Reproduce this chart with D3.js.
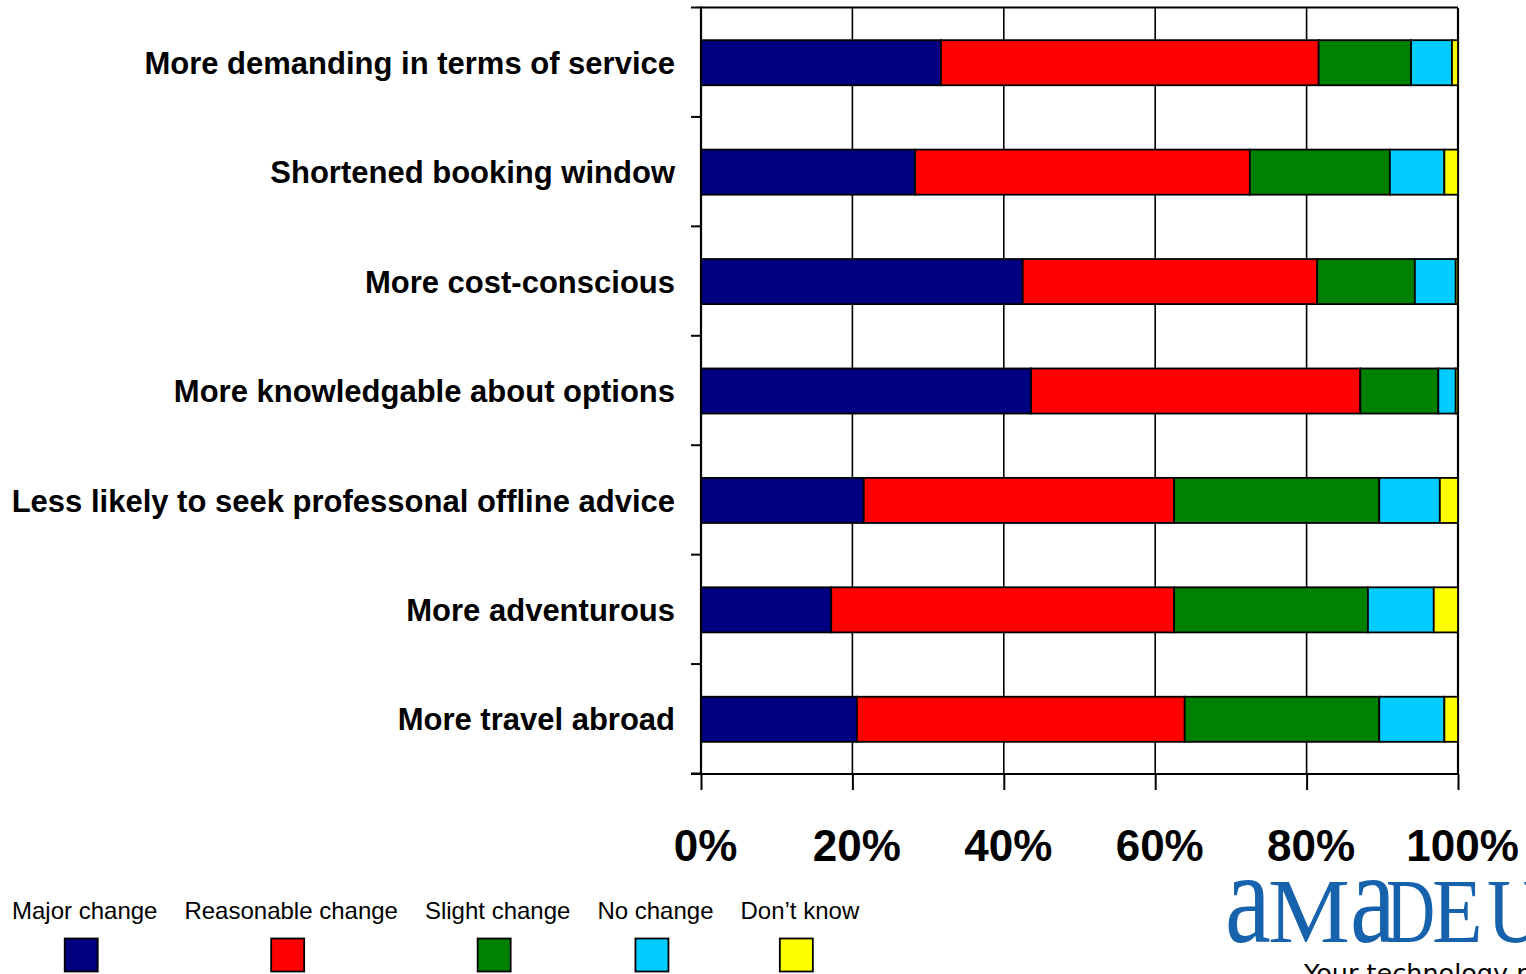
<!DOCTYPE html>
<html>
<head>
<meta charset="utf-8">
<script src="https://cdn.jsdelivr.net/npm/d3@7"></script>
<style>
  html, body { margin: 0; padding: 0; background: #fff; }
  svg { display: block; }
</style>
</head>
<body>
<svg id="chart" width="1526" height="974"></svg>
<script>
// Survey statements, top to bottom
const categories = [
  "More demanding in terms of service",
  "Shortened booking window",
  "More cost-conscious",
  "More knowledgable about options",
  "Less likely to seek professonal offline advice",
  "More adventurous",
  "More travel abroad"
];

// Response shares (%) per statement, in the order of `categories`
const seriesNames = ["Major change", "Reasonable change", "Slight change", "No change", "Don\u2019t know"];
const majorChange      = [31.7, 28.3, 42.5, 43.6, 21.5, 17.2, 20.6];
const reasonableChange = [49.9, 44.2, 38.9, 43.5, 41.0, 45.3, 43.3];
const slightChange     = [12.2, 18.5, 12.9, 10.3, 27.1, 25.6, 25.7];
const noChange         = [ 5.4,  7.2,  5.4,  2.3,  8.0,  8.7,  8.6];
const dontKnow         = [ 0.8,  1.8,  0.3,  0.3,  2.4,  3.2,  1.8];

const seriesColors = ["#000080", "#ff0000", "#008000", "#00ccff", "#ffff00"];
const xTicks = [0, 20, 40, 60, 80, 100];

const svg = d3.select("#chart");
const plot = { left: 701, right: 1458, top: 8, bottom: 774 };

const rows = categories.map((c, i) => ({
  category: c,
  [seriesNames[0]]: majorChange[i],
  [seriesNames[1]]: reasonableChange[i],
  [seriesNames[2]]: slightChange[i],
  [seriesNames[3]]: noChange[i],
  [seriesNames[4]]: dontKnow[i]
}));
const stacked = d3.stack().keys(seriesNames)(rows);

const x = d3.scaleLinear().domain([0, 100]).range([plot.left, plot.right]);
const y = d3.scaleBand().domain(categories).range([plot.top, plot.bottom]).padding(0);
const barH = y.bandwidth() * 0.412;
const color = d3.scaleOrdinal().domain(seriesNames).range(seriesColors);

// vertical gridlines
svg.append("g")
  .selectAll("line")
  .data(xTicks.slice(1))
  .join("line")
  .attr("x1", d => x(d)).attr("x2", d => x(d))
  .attr("y1", plot.top).attr("y2", plot.bottom)
  .attr("stroke", "#000")
  .attr("stroke-width", d => d === 100 ? 2.2 : 1.6);

// top frame line
svg.append("line")
  .attr("x1", plot.left).attr("x2", plot.right)
  .attr("y1", plot.top - 0.5).attr("y2", plot.top - 0.5)
  .attr("stroke", "#000").attr("stroke-width", 2);

// stacked bars
svg.append("g")
  .selectAll("g")
  .data(stacked)
  .join("g")
  .attr("fill", d => color(d.key))
  .selectAll("rect")
  .data(d => d)
  .join("rect")
  .attr("x", d => x(d[0]))
  .attr("width", d => x(d[1]) - x(d[0]))
  .attr("y", d => y(d.data.category) + (y.bandwidth() - barH) / 2)
  .attr("height", barH)
  .attr("stroke", "#000")
  .attr("stroke-width", 1.8);

// left axis: band boundary ticks plus category labels
const yAxisG = svg.append("g");
yAxisG.append("line")
  .attr("x1", plot.left).attr("x2", plot.left)
  .attr("y1", plot.top - 1.5).attr("y2", plot.bottom)
  .attr("stroke", "#000").attr("stroke-width", 2.2);
yAxisG.selectAll("line.tick")
  .data(d3.range(categories.length + 1))
  .join("line")
  .attr("class", "tick")
  .attr("x1", plot.left - 10).attr("x2", plot.left)
  .attr("y1", i => plot.top + i * y.step() - 0.5)
  .attr("y2", i => plot.top + i * y.step() - 0.5)
  .attr("stroke", "#000").attr("stroke-width", 2);

yAxisG.selectAll("text")
  .data(categories)
  .join("text")
  .attr("x", 675)
  .attr("y", d => y(d) + y.bandwidth() / 2)
  .attr("dy", "0.36em")
  .attr("text-anchor", "end")
  .attr("font-family", "Liberation Sans, Arial, sans-serif")
  .attr("font-weight", "bold")
  .attr("font-size", 31)
  .attr("fill", "#000")
  .text(d => d);

// bottom axis
const xAxis = d3.axisBottom(x)
  .tickValues(xTicks)
  .tickSize(16)
  .tickPadding(40)
  .tickFormat(d => d + "%");
const xAxisG = svg.append("g")
  .attr("transform", `translate(0,${plot.bottom})`)
  .call(xAxis);
xAxisG.select(".domain").remove();
xAxisG.append("line")
  .attr("x1", plot.left - 10).attr("x2", plot.right)
  .attr("y1", 0).attr("y2", 0)
  .attr("stroke", "#000").attr("stroke-width", 2.2);
xAxisG.selectAll(".tick line").attr("stroke", "#000").attr("stroke-width", 2);
xAxisG.selectAll(".tick text")
  .attr("font-family", "Liberation Sans, Arial, sans-serif")
  .attr("font-weight", "bold")
  .attr("font-size", 44)
  .attr("fill", "#000")
  .attr("dx", 4);

// legend: labels in a row, swatch under each label
const legend = svg.append("g").attr("font-family", "Liberation Sans, Arial, sans-serif");
let lx = 12;
seriesNames.forEach((name, i) => {
  const t = legend.append("text")
    .attr("x", lx).attr("y", 919)
    .attr("font-size", 24)
    .attr("fill", "#000")
    .text(name);
  const w = t.node().getComputedTextLength();
  legend.append("rect")
    .attr("x", lx + w / 2 - 20)
    .attr("y", 938.5)
    .attr("width", 33).attr("height", 33)
    .attr("fill", seriesColors[i])
    .attr("stroke", "#000").attr("stroke-width", 1.8);
  lx += w + 27;
});

// company logo, lower right: each letter placed and narrowed on its own
const logoLetters = [
  { ch: "a", size: 132, left: 1225, sx: 0.78 },
  { ch: "M", size: 92,  left: 1268, sx: 1.0 },
  { ch: "a", size: 132, left: 1350, sx: 0.78 },
  { ch: "D", size: 92,  left: 1386, sx: 0.74 },
  { ch: "E", size: 92,  left: 1432, sx: 0.9 },
  { ch: "U", size: 92,  left: 1487, sx: 0.85 },
  { ch: "S", size: 92,  left: 1545, sx: 0.85 }
];
svg.append("g")
  .selectAll("text")
  .data(logoLetters)
  .join("text")
  .attr("transform", d => `translate(${d.left},942) scale(${d.sx},1)`)
  .attr("font-family", "Liberation Serif, DejaVu Serif, serif")
  .attr("font-size", d => d.size)
  .attr("fill", "#1762ad")
  .text(d => d.ch);
svg.append("text")
  .attr("x", 1304).attr("y", 982)
  .attr("font-family", "DejaVu Sans, Verdana, sans-serif")
  .attr("font-size", 25.5)
  .attr("fill", "#000")
  .text("Your technology partner");
</script>
</body>
</html>
